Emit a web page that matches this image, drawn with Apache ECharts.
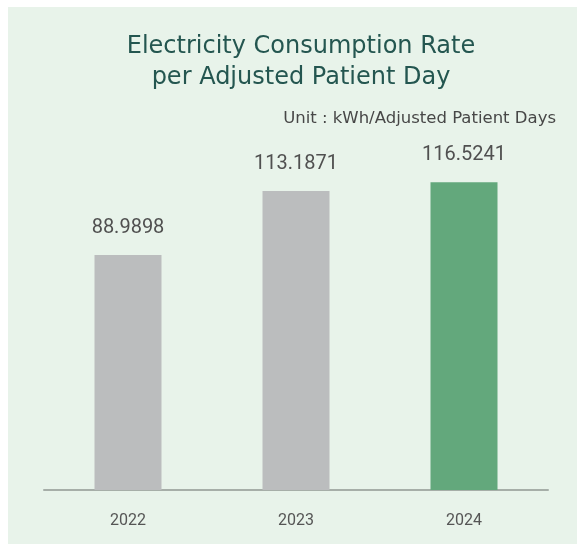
<!DOCTYPE html>
<html>
<head>
<meta charset="utf-8">
<script src="https://cdn.jsdelivr.net/npm/echarts@6/dist/echarts.min.js"></script>
<style>
  html, body { margin: 0; padding: 0; background: #ffffff; }
  #chart { width: 577px; height: 544px; }
</style>
</head>
<body>
<div id="chart"></div>
<script>
// Electricity use per adjusted patient day, by year
const years = ['2022', '2023', '2024'];
const rates = [88.9898, 113.1871, 116.5241];
const barColors = ['#bbbdbe', '#bbbdbe', '#63a87c'];

const chart = echarts.init(document.getElementById('chart'), null, { renderer: 'canvas' });

chart.setOption({
  backgroundColor: '#ffffff',
  animation: false,
  graphic: [
    {
      type: 'rect',
      z: -10,
      shape: { x: 8, y: 7, width: 569, height: 537 },
      style: { fill: '#e8f3ea' }
    }
  ],
  title: [
    {
      text: 'Electricity Consumption Rate\nper Adjusted Patient Day',
      left: 296,
      textAlign: 'center',
      top: 26,
      textStyle: {
        fontFamily: '"DejaVu Sans", sans-serif',
        fontWeight: 'normal',
        fontSize: 24,
        lineHeight: 31,
        color: '#245650'
      }
    },
    {
      text: 'Unit : kWh/Adjusted Patient Days',
      right: 21,
      top: 110,
      padding: 0,
      textStyle: {
        fontFamily: '"DejaVu Sans", sans-serif',
        fontWeight: 'normal',
        fontSize: 16.5,
        color: '#474747'
      }
    }
  ],
  grid: { left: 44, right: 29, top: 173, bottom: 54 },
  xAxis: {
    type: 'category',
    data: years,
    axisLine: { show: true, lineStyle: { color: '#a6aea8', width: 2 } },
    axisTick: { show: false },
    axisLabel: {
      color: '#555555',
      fontFamily: 'Roboto',
      fontSize: 16,
      margin: 23
    }
  },
  yAxis: {
    type: 'value',
    min: 0,
    max: 120,
    show: false,
    splitLine: { show: false }
  },
  series: [{
    type: 'bar',
    barWidth: 67,
    data: rates.map((v, i) => ({ value: v, itemStyle: { color: barColors[i] } })),
    label: {
      show: true,
      position: 'top',
      distance: 17,
      color: '#505050',
      fontFamily: 'Roboto',
      fontSize: 20,
      formatter: p => rates[p.dataIndex].toFixed(4)
    }
  }]
});
</script>
</body>
</html>
